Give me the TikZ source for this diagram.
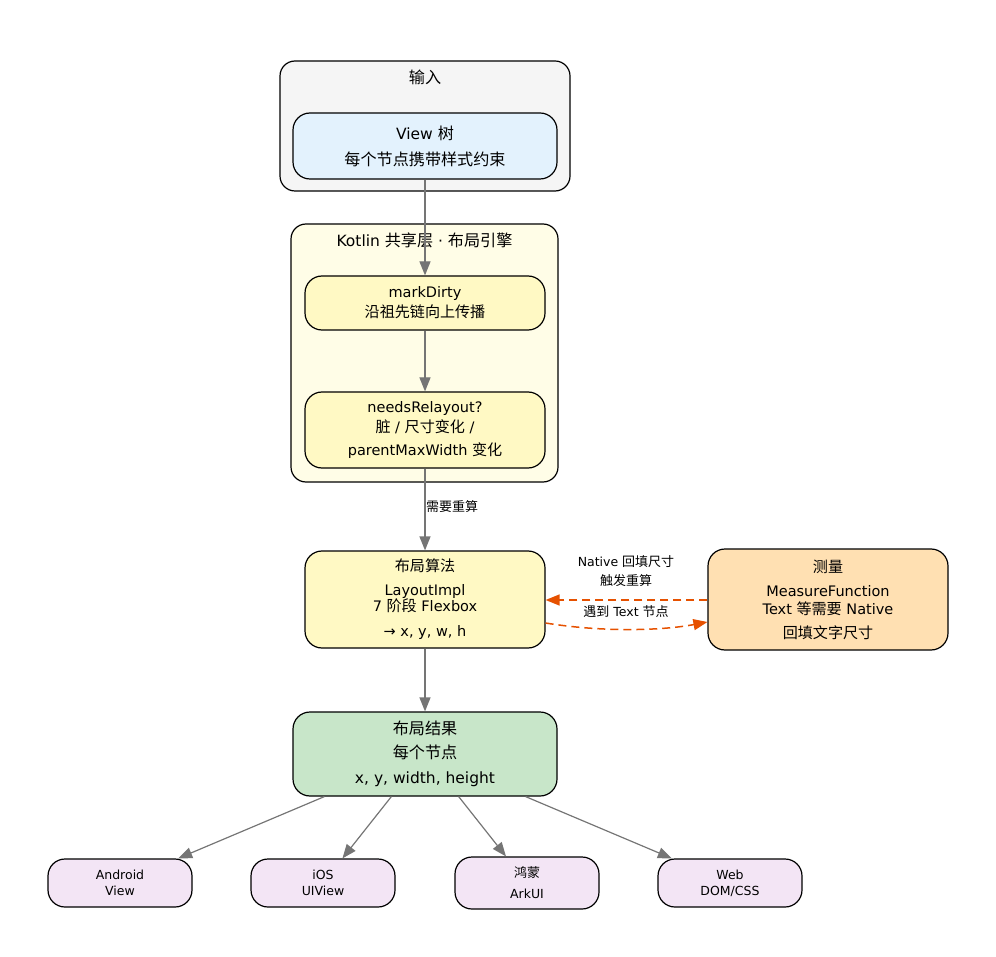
\documentclass[tikz,border=0pt]{standalone}
\usepackage{fontspec}
\setmainfont{DejaVu Sans}
\newfontfamily\zhfont[Scale=1.04]{Noto Sans CJK SC}
\newcommand\zh[1]{{\zhfont #1}}
\usetikzlibrary{arrows.meta}

\definecolor{ingray}{HTML}{F5F5F5}
\definecolor{viewblue}{HTML}{E3F2FD}
\definecolor{ktfill}{HTML}{FFFDE7}
\definecolor{algoyellow}{HTML}{FFF9C4}
\definecolor{measorange}{HTML}{FFE0B2}
\definecolor{resgreen}{HTML}{C8E6C9}
\definecolor{platpurple}{HTML}{F3E5F5}
\definecolor{edgegray}{HTML}{757575}
\definecolor{backorange}{HTML}{E65100}

\begin{document}
\begin{tikzpicture}[x=1pt, y=-1pt,
  cluster/.style={draw=black, line width=1.2pt, rounded corners=15pt, inner sep=0pt},
  box/.style={draw=black, line width=1.2pt, rounded corners=17pt, inner sep=0pt, align=center},
  big/.style={font=\fontsize{15.5}{16}\selectfont, align=center},
  mid/.style={font=\fontsize{14.5}{16}\selectfont, align=center},
  small/.style={font=\fontsize{12.5}{16}\selectfont, align=center},
  edge/.style={draw=edgegray, line width=1.2pt, -{Triangle[length=14pt,width=11pt]}},
  back/.style={draw=backorange, line width=1.5pt, dash pattern=on 8pt off 5pt, -{Triangle[length=14pt,width=11pt]}}
]
\useasboundingbox (0,0) rectangle (996,957);

% clusters
\node[cluster, fill=ingray, minimum width=290pt, minimum height=130pt] (in_cl) at (425,126) {};
\node[big] (in_lbl) at (425,77) {\zh{输入}};
\node[cluster, fill=ktfill, minimum width=267pt, minimum height=258pt] (kt_cl) at (424.5,353) {};
\node[big] (kt_lbl) at (424.5,240) {Kotlin \zh{共享层} · \zh{布局引擎}};

% nodes
\node[box, big, fill=viewblue, minimum width=264pt, minimum height=66pt] (view) at (425,146)
  {View \zh{树}\\[10pt]\zh{每个节点携带样式约束}};
\node[box, mid, fill=algoyellow, minimum width=240pt, minimum height=54pt] (mark) at (425,303)
  {markDirty\\[4pt]\zh{沿祖先链向上传播}};
\node[box, mid, fill=algoyellow, minimum width=240pt, minimum height=76pt] (needs) at (425,430)
  {needsRelayout?\\[4pt]\zh{脏} / \zh{尺寸变化} /\\[7pt]parentMaxWidth \zh{变化}};
\node[box, mid, fill=algoyellow, minimum width=240pt, minimum height=97pt] (algo) at (425,599.5)
  {\zh{布局算法}\\[8pt]LayoutImpl\\7 \zh{阶段} Flexbox\\[9pt]→ x, y, w, h};
\node[box, mid, fill=measorange, minimum width=240pt, minimum height=101pt] (meas) at (828,599.5)
  {\zh{测量}\\[8pt]MeasureFunction\\[2pt]Text \zh{等需要} Native\\[8pt]\zh{回填文字尺寸}};
\node[box, big, fill=resgreen, minimum width=264pt, minimum height=84pt] (result) at (425,754)
  {\zh{布局结果}\\[8pt]\zh{每个节点}\\[9pt]x, y, width, height};
\node[box, small, fill=platpurple, minimum width=144pt, minimum height=48pt] (android) at (120,883)
  {Android\\View};
\node[box, small, fill=platpurple, minimum width=144pt, minimum height=48pt] (ios) at (323,883)
  {iOS\\UIView};
\node[box, small, fill=platpurple, minimum width=144pt, minimum height=52pt] (hongmeng) at (527,883)
  {\zh{鸿蒙}\\[5pt]ArkUI};
\node[box, small, fill=platpurple, minimum width=144pt, minimum height=48pt] (web) at (730,883)
  {Web\\DOM/CSS};

% connectors
\draw[edge] (view) -- (mark);
\draw[edge] (mark) -- (needs);
\draw[edge] (needs) -- (algo);
\node[small] (recalc) at (452,507) {\zh{需要重算}};
\draw[edge] (algo) -- (result);
\draw[edge] (result) -- (android);
\draw[edge] (result) -- (ios);
\draw[edge] (result) -- (hongmeng);
\draw[edge] (result) -- (web);

% native measure loop
\draw[back] ([yshift=-0.5pt]meas.west) -- ([yshift=-0.5pt]algo.east);
\node[small] (fill_lbl) at (626,571.5) {Native \zh{回填尺寸}\\[3pt]\zh{触发重算}};
\draw[back] ([yshift=-23.5pt]algo.east) .. controls (600,632) and (660,631) .. ([yshift=-22.5pt]meas.west);
\node[small] (text_lbl) at (626,612) {\zh{遇到} Text \zh{节点}};

\end{tikzpicture}
\end{document}
